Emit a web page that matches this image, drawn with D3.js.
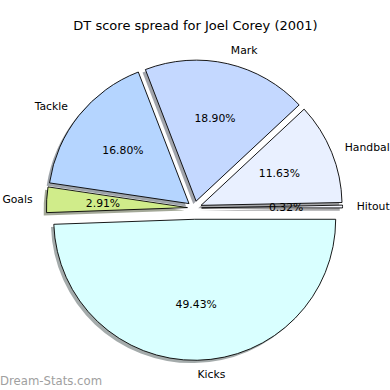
<!DOCTYPE html>
<html>
<head>
<meta charset="utf-8">
<script src="https://cdn.jsdelivr.net/npm/d3@7"></script>
<style>
  body { margin: 0; background: #fff; }
  svg { display: block; font-family: "DejaVu Sans", sans-serif; }
</style>
</head>
<body>
<svg></svg>
<script>
// slice data, counterclockwise from 3 o'clock
const categories = ["Hitout", "Handbal", "Mark", "Tackle", "Goals", "Kicks"];
const values = [0.32, 11.63, 18.90, 16.80, 2.91, 49.43];
const colors = ["#f4f6ff", "#e9f0ff", "#c4d8ff", "#b5d5ff", "#d0ec8a", "#d9ffff"];
const explode = [0.05, 0.05, 0.05, 0.05, 0.05, 0.08];

const width = 390, height = 390;
const svg = d3.select("svg").attr("width", width).attr("height", height);

const cx = 194.5, cy = 208;
const r = d3.scaleLinear().domain([0, 1]).range([0, 141]);

svg.append("text")
  .attr("x", 195.5)
  .attr("y", 30)
  .attr("text-anchor", "middle")
  .style("font-size", "13px")
  .text("DT score spread for Joel Corey (2001)");

const pie = d3.pie()
  .sort(null)
  .startAngle(Math.PI / 2)
  .endAngle(Math.PI / 2 - 2 * Math.PI)
  .value((d) => d);

const arcs = pie(values).map((a, i) => {
  const mid = (a.startAngle + a.endAngle) / 2; // d3 angle, 0 = up, clockwise
  const dx = Math.sin(mid), dy = -Math.cos(mid);
  return {
    ...a,
    i,
    dx,
    dy,
    ox: cx + dx * r(explode[i]),
    oy: cy + dy * r(explode[i]),
  };
});

const arc = d3.arc().innerRadius(0).outerRadius(r(1));

// shadows first, below every wedge
svg.append("g")
  .selectAll("path")
  .data(arcs)
  .enter()
  .append("path")
  .attr("d", arc)
  .attr("transform", (d) => `translate(${d.ox - r(0.02)}, ${d.oy + r(0.02)})`)
  .attr("fill", (d) => d3.color(colors[d.i]).darker(3))
  .attr("opacity", 0.5);

svg.append("g")
  .selectAll("path")
  .data(arcs)
  .enter()
  .append("path")
  .attr("d", arc)
  .attr("transform", (d) => `translate(${d.ox}, ${d.oy})`)
  .attr("fill", (d) => colors[d.i])
  .attr("stroke", "#000")
  .attr("stroke-width", 0.9)
  .attr("stroke-linejoin", "miter");

// category labels
svg.append("g")
  .selectAll("text")
  .data(arcs)
  .enter()
  .append("text")
  .attr("x", (d) => d.ox + d.dx * r(1.1))
  .attr("y", (d) => d.oy + d.dy * r(1.1))
  .attr("dy", "0.35em")
  .attr("text-anchor", (d) => (d.dx > 0 ? "start" : "end"))
  .style("font-size", "10.8px")
  .text((d) => categories[d.i]);

// percentages
svg.append("g")
  .selectAll("text")
  .data(arcs)
  .enter()
  .append("text")
  .attr("x", (d) => d.ox + d.dx * r(0.6))
  .attr("y", (d) => d.oy + d.dy * r(0.6))
  .attr("dy", "0.35em")
  .attr("text-anchor", "middle")
  .style("font-size", "10.8px")
  .text((d) => values[d.i].toFixed(2) + "%");

svg.append("text")
  .attr("x", 0)
  .attr("y", 385)
  .attr("fill", "#a0a0a0")
  .style("font-size", "11.7px")
  .text("Dream-Stats.com");
</script>
</body>
</html>
